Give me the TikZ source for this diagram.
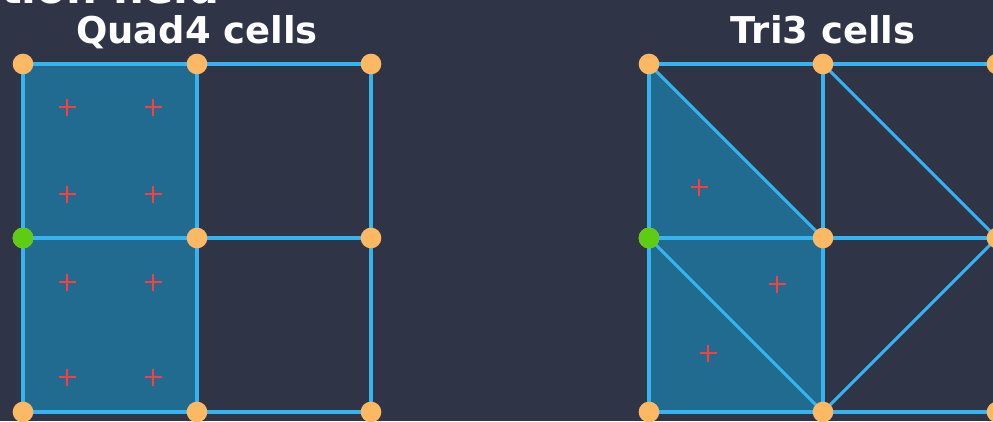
\documentclass[tikz,border=0pt]{standalone}
\usepackage{fontspec}
\setmainfont{DejaVu Sans}
\usetikzlibrary{calc}
\definecolor{MBack}{HTML}{2F3447}
\definecolor{MFill}{HTML}{206B8F}
\definecolor{MEdge}{HTML}{36B4F0}
\definecolor{MNode}{HTML}{FDB863}
\definecolor{MBnd}{HTML}{5ECC12}
\definecolor{MGauss}{HTML}{FF3D3D}
\newcommand{\gpt}[2]{%
	\draw[MGauss, line width=2.5pt, line cap=butt] ({#1-8.5},#2) -- ({#1+8.5},#2);
	\draw[MGauss, line width=2.5pt, line cap=butt] (#1,{#2-8.5}) -- (#1,{#2+8.5});
}
\tikzset{
	meshedge/.style={MEdge, line width=2.6pt},
	vtx/.style={circle, fill=MNode, inner sep=0pt, minimum size=0.62cm},
	bvtx/.style={vtx, fill=MBnd},
	ttl/.style={anchor=base, text=white, font=\bfseries\fontsize{31.5}{36}\selectfont}
}

\begin{document}
\begin{tikzpicture}[x=0.03cm, y=-0.03cm, line cap=round, line join=round]
	
	\useasboundingbox (0,0) rectangle (993,421);
	\clip (0,0) rectangle (993,421);
	\fill[MBack] (0,0) rectangle (993,421);
	
	% -- Cut-off heading ------------------------------------------
	\node[anchor=base east, text=white, font=\bfseries\fontsize{37}{42}\selectfont]
	(head) at (224,4) {tion field};
	
	% -- Mesh vertices --------------------------------------------
	\foreach \i/\xx in {0/23,1/197,2/371}{%
		\foreach \j/\yy in {0/64,1/238,2/412}{%
			\coordinate (q\i\j) at (\xx,\yy);
		}
	}
	\foreach \i/\xx in {0/649,1/823,2/997}{%
		\foreach \j/\yy in {0/64,1/238,2/412}{%
			\coordinate (t\i\j) at (\xx,\yy);
		}
	}
	
	% -- Left: Quad4 cells ----------------------------------------
	\node[ttl] (qtitle) at (197,43) {Quad4 cells};
	
	\fill[MFill] (q00) rectangle (q12);
	
	\foreach \k in {0,1,2}{%
		\draw[meshedge] (q0\k) -- (q2\k);
		\draw[meshedge] (q\k0) -- (q\k2);
	}
	
	\foreach \yy in {107,194,282,377}{%
		\gpt{67}{\yy}
		\gpt{153}{\yy}
	}
	
	% -- Right: Tri3 cells ----------------------------------------
	\node[ttl] (ttitle) at (823,43) {Tri3 cells};
	
	\fill[MFill] (t00) -- (t01) -- (t11) -- cycle;
	\fill[MFill] (t01) rectangle (t12);
	
	\foreach \k in {0,1,2}{%
		\draw[meshedge] (t0\k) -- (t2\k);
		\draw[meshedge] (t\k0) -- (t\k2);
	}
	\draw[meshedge] (t00) -- (t11);
	\draw[meshedge] (t01) -- (t12);
	\draw[meshedge] (t10) -- (t21);
	\draw[meshedge] (t12) -- (t21);
	
	\gpt{699}{187}
	\gpt{777}{284}
	\gpt{708}{353}
	
	% -- Nodes on top (green = boundary node) ---------------------
	\foreach \i in {0,1,2}{%
		\foreach \j in {0,1,2}{%
			\node[vtx] (nq\i\j) at (q\i\j) {};
			\node[vtx] (nt\i\j) at (t\i\j) {};
		}
	}
	\node[bvtx] (gq) at (q01) {};
	\node[bvtx] (gt) at (t01) {};
	
\end{tikzpicture}
\end{document}
